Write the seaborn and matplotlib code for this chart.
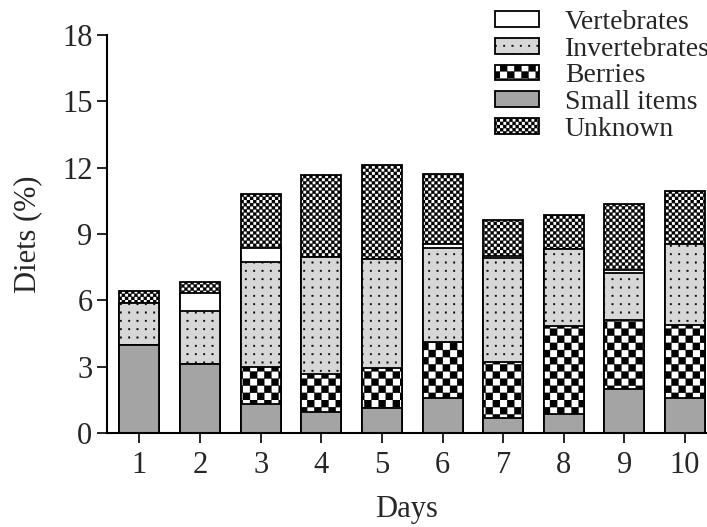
import warnings
import numpy as np
import matplotlib
matplotlib.use("Agg")
import matplotlib.pyplot as plt
import matplotlib.patches as mpatches
import matplotlib.hatch as mhatch
from matplotlib.path import Path
import seaborn as sns

warnings.filterwarnings("ignore")

# data (percent of diet, per day)
days = [1, 2, 3, 4, 5, 6, 7, 8, 9, 10]
small_items = [4.0, 3.1, 1.3, 0.95, 1.15, 1.6, 0.7, 0.85, 2.0, 1.6]
berries = [0.0, 0.0, 1.7, 1.7, 1.8, 2.5, 2.5, 4.0, 3.1, 3.3]
invertebrates = [1.9, 2.4, 4.75, 5.3, 4.9, 4.25, 4.7, 3.45, 2.15, 3.65]
vertebrates = [0.0, 0.85, 0.6, 0.0, 0.0, 0.2, 0.1, 0.0, 0.12, 0.0]
unknown = [0.5, 0.5, 2.45, 3.7, 4.25, 3.15, 1.65, 1.55, 3.0, 2.4]
y_ticks = [0, 3, 6, 9, 12, 15, 18]


# extra hatch patterns: checkerboards and a square dot grid
class Checker(mhatch.HatchPatternBase):
    sizes = {'k': 14, 'q': 32}

    def __init__(self, hatch, density):
        self.n = 0
        for ch, n in self.sizes.items():
            if ch in hatch:
                self.n = n
        self.num_vertices = 5 * (self.n * self.n // 2)

    def set_vertices_and_codes(self, vertices, codes):
        n = self.n
        s = 1.0 / n
        k = 0
        for i in range(n):
            for j in range(n):
                if (i + j) % 2 == 0:
                    x0, y0 = i * s, j * s
                    vertices[k:k + 5] = [[x0, y0], [x0 + s, y0], [x0 + s, y0 + s],
                                         [x0, y0 + s], [x0, y0]]
                    codes[k:k + 5] = [Path.MOVETO, Path.LINETO, Path.LINETO,
                                      Path.LINETO, Path.CLOSEPOLY]
                    k += 5


class DotGrid(mhatch.HatchPatternBase):
    def __init__(self, hatch, density):
        self.n = 12 if 'g' in hatch else 0
        self.num_vertices = 5 * self.n * self.n

    def set_vertices_and_codes(self, vertices, codes):
        n = self.n
        d = 0.008
        k = 0
        for i in range(n):
            for j in range(n):
                cx, cy = (i + 0.5) / n, (j + 0.5) / n
                vertices[k:k + 5] = [[cx - d, cy - d], [cx + d, cy - d], [cx + d, cy + d],
                                     [cx - d, cy + d], [cx - d, cy - d]]
                codes[k:k + 5] = [Path.MOVETO, Path.LINETO, Path.LINETO,
                                  Path.LINETO, Path.CLOSEPOLY]
                k += 5


mhatch._hatch_types.extend([Checker, DotGrid])

sns.set_style("ticks")
plt.rcParams['font.family'] = ['Liberation Serif', 'DejaVu Serif']
plt.rcParams['hatch.linewidth'] = 0.2
plt.rcParams['hatch.color'] = 'black'

fig = plt.figure(figsize=(7.07, 5.27), dpi=100)
ax = fig.add_axes([107 / 707, 94 / 527, 600 / 707, 398 / 527])

# stacking order, bottom to top
layers = [
    ("Small items", small_items, "#a4a4a4", ""),
    ("Berries", berries, "white", "k"),
    ("Invertebrates", invertebrates, "#d7d7d7", "g"),
    ("Vertebrates", vertebrates, "white", ""),
    ("Unknown", unknown, "white", "q"),
]
tops = np.cumsum([np.array(l[1]) for l in layers], axis=0)

styles = {}
for (name, vals, col, hat), top in reversed(list(zip(layers, tops))):
    n0 = len(ax.patches)
    sns.barplot(x=days, y=top, color=col, saturation=1, width=0.66,
                edgecolor='black', linewidth=1.3, ax=ax)
    for p in ax.patches[n0:]:
        p.set_hatch(hat)
    styles[name] = (col, hat)

ax.set_xlim(-0.536, 9.363)
ax.set_ylim(0, 18)
ax.set_yticks(y_ticks)
ax.set_ylabel("Diets (%)", fontsize=22, labelpad=14)
ax.set_xlabel("Days", fontsize=22, labelpad=11)
ax.tick_params(axis='both', labelsize=22, length=7, width=1.2, color='black')
ax.tick_params(axis='x', pad=6)
sns.despine(ax=ax)
for s in ['left', 'bottom']:
    ax.spines[s].set_linewidth(1.5)
    ax.spines[s].set_color('black')

order = ["Vertebrates", "Invertebrates", "Berries", "Small items", "Unknown"]
handles = [mpatches.Patch(facecolor=styles[n][0], hatch=styles[n][1],
                          edgecolor='black', linewidth=1.3, label=n) for n in order]
fig.legend(handles=handles, loc='upper left', bbox_to_anchor=(495 / 707, 1 - 10 / 527),
           frameon=False, fontsize=20, handlelength=1.58, handleheight=0.5,
           handletextpad=0.93, labelspacing=0.06, borderpad=0, borderaxespad=0)

fig.savefig("out.png", dpi=100)
